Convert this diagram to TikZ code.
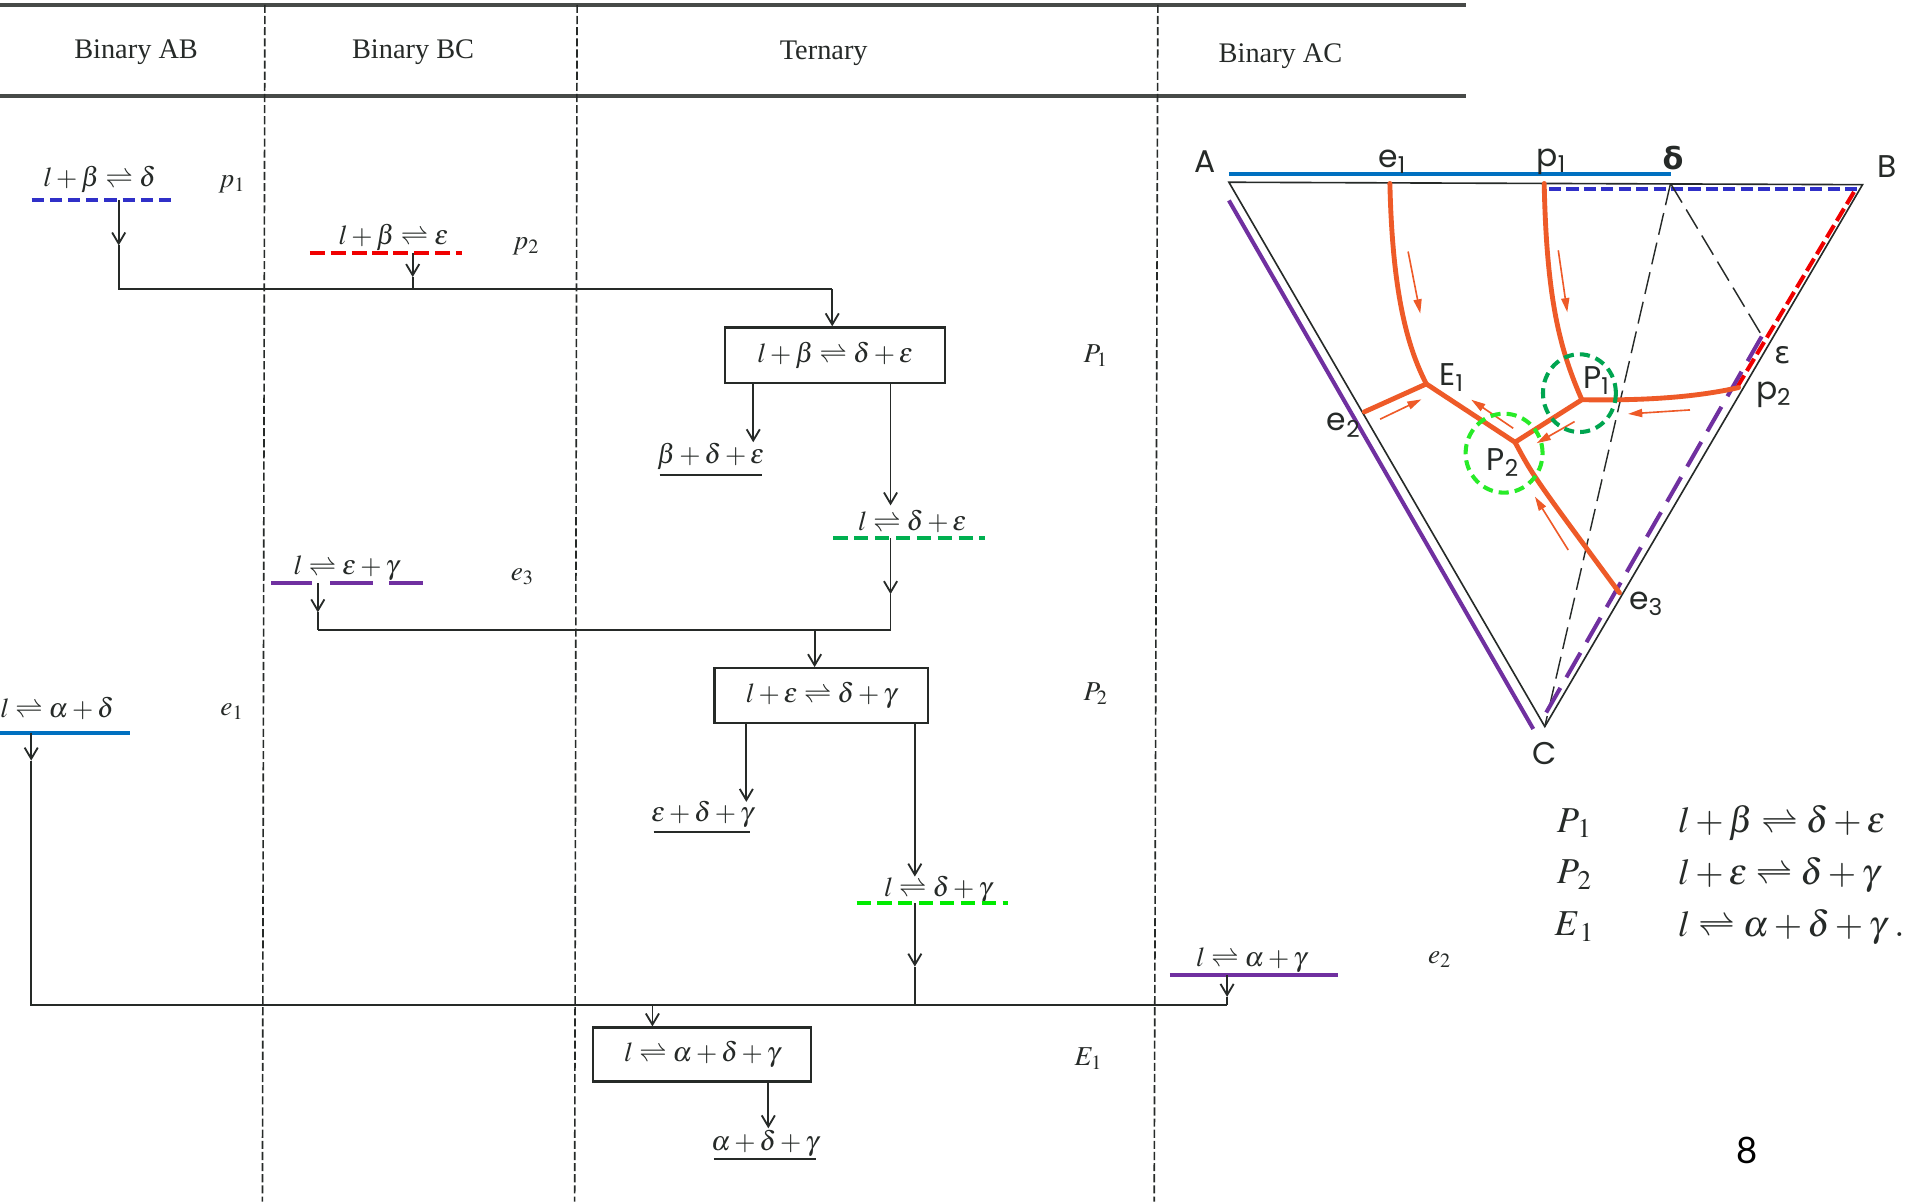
\documentclass[tikz,border=0pt]{standalone}
\usepackage{mathptmx}
\usepackage{fontspec}
\setmainfont{Liberation Serif}
\newfontfamily\trifont{Poppins}
\newfontfamily\grkfont{DejaVu Sans}
\newfontfamily\pagefont{Lato}
\usetikzlibrary{arrows.meta}
\definecolor{cBlue}{RGB}{0,112,192}
\definecolor{cBlueD}{RGB}{48,48,200}
\definecolor{cRed}{RGB}{240,0,0}
\definecolor{cGreen}{RGB}{0,176,80}
\definecolor{cLime}{RGB}{0,235,0}
\definecolor{cPurple}{RGB}{112,48,160}
\definecolor{cOrange}{RGB}{238,90,40}
\definecolor{cDGreen}{RGB}{0,165,80}
\definecolor{cLGreen}{RGB}{40,235,40}
\definecolor{cInk}{RGB}{38,42,40}
\tikzset{
  rx/.style={font=\fontsize{13.5}{15}\selectfont, text=cInk, inner sep=0pt},
  lbl/.style={font=\fontsize{13.5}{15}\selectfont, text=cInk, inner sep=0pt},
  hdr/.style={font=\fontsize{14}{16}\selectfont, text=cInk, inner sep=0pt},
  rbox/.style={draw=cInk, line width=1.1pt, inner sep=0pt, font=\fontsize{13.5}{15}\selectfont, text=cInk},
  fl/.style={draw=cInk, line width=0.9pt},
  arr/.style={fl, -{Straight Barb[length=5.5pt,width=6.5pt]}},
  ul/.style={draw=cInk, line width=1.1pt},
  col/.style={line width=2pt},
  sep/.style={draw=cInk, line width=0.8pt, dash pattern=on 4pt off 1.5pt},
  hline/.style={draw=cInk!85, line width=1.8pt},
  tri/.style={draw=cInk, line width=0.8pt},
  tdash/.style={draw=cInk, line width=0.7pt, dash pattern=on 11pt off 4pt},
  orl/.style={draw=cOrange, line width=2.4pt, line join=round, line cap=round},
  ora/.style={draw=cOrange, line width=0.8pt, -{Triangle[length=7pt,width=4pt]}},
  circ/.style={line width=2pt, dash pattern=on 5pt off 3pt},
  tl/.style={font=\trifont\fontsize{15.5}{17}\selectfont, text=cInk, inner sep=0pt},
  leg/.style={font=\fontsize{18}{20}\selectfont, text=cInk, inner sep=0pt},
}
\begin{document}
\begin{tikzpicture}[x=0.6pt,y=-0.6pt]
\useasboundingbox[fill=white] (0,0) rectangle (1568,989);
% ---------- header and columns ----------
\draw[hline] (0,4) -- (1207,4);
\draw[hline] (0,79) -- (1207,79);
\draw[sep] (218,4) -- (216,989);
\draw[sep] (475,4) -- (473,989);
\draw[sep] (953,4) -- (950,989);
\node[hdr] (hAB) at (112,43) {Binary AB};
\node[hdr] (hBC) at (340,43) {Binary BC};
\node[hdr] (hT) at (678,44) {Ternary};
\node[hdr] (hAC) at (1054,46) {Binary AC};
% ---------- coordinates of the flow ----------
\coordinate (p1s) at (97.7,165);
\coordinate (p1t) at (97.7,202);
\coordinate (h1L) at (97.7,238);
\coordinate (h1R) at (685,238);
\coordinate (p2s) at (339.7,208);
\coordinate (p2t) at (339.7,228);
\coordinate (h1M) at (339.7,238);
\coordinate (t1) at (620,364);
\coordinate (t2) at (733,416);
\coordinate (de0) at (733,443);
\coordinate (de1) at (733,489);
\coordinate (h2R) at (733,518.5);
\coordinate (e3s) at (261.6,480);
\coordinate (e3t) at (261.6,504);
\coordinate (h2L) at (261.6,518.5);
\coordinate (h2M) at (670.5,518.5);
\coordinate (t3) at (614.3,660);
\coordinate (t4) at (753,721.5);
\coordinate (dg0) at (753,743.5);
\coordinate (dg1) at (753,795.6);
\coordinate (h3M) at (753,827);
\coordinate (e1s) at (25.7,603);
\coordinate (e1t) at (25.7,626);
\coordinate (h3L) at (25.7,827);
\coordinate (e2s) at (1010,802.5);
\coordinate (e2t) at (1010,820.5);
\coordinate (h3R) at (1010,827);
\coordinate (h3E) at (537,827);
\coordinate (t5) at (632.4,928.7);
% ---------- p1, p2 ----------
\node[rx] (rp1) at (82,148) {$l+\beta\rightleftharpoons\delta$};
\node[lbl] (lp1) at (191,152) {$p_1$};
\draw[col, draw=cBlueD, dash pattern=on 6pt off 3pt] (26,165) -- (143,165);
\node[rx] (rp2) at (324,195) {$l+\beta\rightleftharpoons\varepsilon$};
\node[lbl] (lp2) at (433,203) {$p_2$};
\draw[col, draw=cRed, dash pattern=on 7.5pt off 2.8pt] (255,208) -- (380,208);
% ---------- P1 ----------
\node[rbox, minimum width=108.6pt, minimum height=27.6pt] (bP1) at (687.5,292.5) {$l+\beta\rightleftharpoons\delta+\varepsilon$};
\node[lbl] (lP1) at (902,293) {$P_1$};
\draw[arr] (p1s) -- (p1t);
\draw[fl] (p1t) -- (h1L) -- (h1R);
\draw[arr] (p2s) -- (p2t);
\draw[fl] (p2t) -- (h1M);
\draw[arr] (h1R) -- (h1R |- bP1.north);
\draw[arr] (bP1.south -| t1) -- (t1);
\node[rx] (rbde) at (585,376) {$\beta+\delta+\varepsilon$};
\draw[ul] (543,391) -- (627,391);
\draw[arr] (bP1.south -| t2) -- (t2);
\node[rx] (rde) at (751,429.5) {$l\rightleftharpoons\delta+\varepsilon$};
\draw[col, draw=cGreen, dash pattern=on 7pt off 3.3pt] (686,443) -- (811,443);
% ---------- e3 ----------
\node[rx] (re3) at (285,468) {$l\rightleftharpoons\varepsilon+\gamma$};
\node[lbl] (le3) at (430,475) {$e_3$};
\draw[col, draw=cPurple] (223.4,480) -- (257.2,480) (272,480) -- (306.8,480) (320.4,480) -- (348,480);
\draw[arr] (de0) -- (de1);
\draw[fl] (de1) -- (h2R) -- (h2L);
\draw[arr] (e3s) -- (e3t);
\draw[fl] (e3t) -- (h2L);
% ---------- P2 ----------
\node[rbox, minimum width=105.6pt, minimum height=27pt] (bP2) at (676,572.5) {$l+\varepsilon\rightleftharpoons\delta+\gamma$};
\node[lbl] (lP2) at (902,571) {$P_2$};
\draw[arr] (h2M) -- (h2M |- bP2.north);
\draw[arr] (bP2.south -| t3) -- (t3);
\node[rx] (rede) at (578,670) {$\varepsilon+\delta+\gamma$};
\draw[ul] (538,684.5) -- (617,684.5);
\draw[arr] (bP2.south -| t4) -- (t4);
\node[rx] (rdg) at (772,732) {$l\rightleftharpoons\delta+\gamma$};
\draw[col, draw=cLime, dash pattern=on 7pt off 3.3pt] (705,743.5) -- (829.4,743.5);
\draw[arr] (dg0) -- (dg1);
\draw[fl] (dg1) -- (h3M);
% ---------- e1, e2 ----------
\node[rx] (re1) at (47,583) {$l\rightleftharpoons\alpha+\delta$};
\node[lbl] (le1) at (191,586) {$e_1$};
\draw[col, draw=cBlue] (0,603) -- (106.6,603);
\draw[arr] (e1s) -- (e1t);
\draw[fl] (e1t) -- (h3L) -- (h3R);
\node[rx] (re2) at (1030,790) {$l\rightleftharpoons\alpha+\gamma$};
\node[lbl] (le2) at (1185,790) {$e_2$};
\draw[col, draw=cPurple] (963,802.5) -- (1101,802.5);
\draw[arr] (e2s) -- (e2t);
\draw[fl] (e2t) -- (h3R);
% ---------- E1 ----------
\node[rbox, minimum width=107.6pt, minimum height=26.7pt] (bE1) at (578,868) {$l\rightleftharpoons\alpha+\delta+\gamma$};
\node[lbl] (lE1) at (896,871) {$E_1$};
\draw[arr] (h3E) -- (h3E |- bE1.north);
\draw[arr] (bE1.south -| t5) -- (t5);
\node[rx] (radg) at (629.5,941) {$\alpha+\delta+\gamma$};
\draw[ul] (587.6,954.2) -- (671.4,954.2);
% ---------- triangle ----------
\coordinate (A) at (1011.5,150);
\coordinate (B) at (1533,152);
\coordinate (C) at (1271.5,598);
\coordinate (D) at (1375,151);
\coordinate (Eps) at (1450,276);
\draw[col, draw=cBlue] (1011.5,143.5) -- (1375,143.5);
\draw[col, draw=cBlueD, dash pattern=on 6pt off 2.6pt] (1275,155.8) -- (1530,155.8);
\draw[col, draw=cPurple] (1011.5,165) -- (1262,600);
\draw[tri] (A) -- (B) -- (C) -- cycle;
\draw[tdash] (D) -- (C);
\draw[tdash] (D) -- (Eps);
\draw[col, draw=cRed, dash pattern=on 7pt off 2.6pt] (1526,158) -- (1429,320);
\draw[col, draw=cPurple, dash pattern=on 14pt off 6pt] (1450,277) -- (1269.5,592);
% orange curves
\coordinate (E1) at (1174,316);
\coordinate (P1) at (1302,329);
\coordinate (P2) at (1247,364);
\coordinate (e1p) at (1144,151);
\coordinate (p1p) at (1271,151);
\coordinate (e2p) at (1123,339);
\coordinate (e3p) at (1333,488);
\coordinate (p2p) at (1431,319);
\draw[orl] (e1p) .. controls (1146,240) and (1158,285) .. (E1);
\draw[orl] (p1p) .. controls (1273,250) and (1285,290) .. (P1);
\draw[orl] (e2p) -- (E1) -- (P2) -- (P1) .. controls (1360,330) and (1400,326) .. (p2p);
\draw[orl] (P2) .. controls (1262,392) .. (e3p);
\draw[ora] (1159,207) -- (1169,258);
\draw[ora] (1282.6,206) -- (1290,257);
\draw[ora] (1136,345) -- (1170,328.7);
\draw[ora] (1245.5,352.5) -- (1211,329);
\draw[ora] (1296,347) -- (1264.8,364.8);
\draw[ora] (1391,337.4) -- (1340,340.7);
\draw[ora] (1290.8,452.7) -- (1263.4,408.8);
\draw[circ, draw=cDGreen] (1300,323.6) ellipse [x radius=18pt, y radius=19.2pt];
\draw[circ, draw=cLGreen] (1238,373) ellipse [x radius=19pt, y radius=19.5pt];
% triangle labels
\node[tl] (lA) at (992,133) {A};
\node[tl] (lB) at (1553,137) {B};
\node[tl] (lC) at (1271,620) {C};
\node[tl] (le1t) at (1146,133) {e\textsubscript{1}};
\node[tl] (lp1t) at (1277,133) {p\textsubscript{1}};
\node[tl, font=\grkfont\bfseries\fontsize{15}{17}\selectfont] (ldt) at (1377,130) {δ};
\node[tl] (lE1t) at (1195,311) {E\textsubscript{1}};
\node[tl] (lP1t) at (1314,313) {P\textsubscript{1}};
\node[tl] (lP2t) at (1237,381) {P\textsubscript{2}};
\node[tl] (le2t) at (1106,350) {e\textsubscript{2}};
\node[tl, font=\grkfont\fontsize{15}{17}\selectfont] (lept) at (1467,292) {ε};
\node[tl] (lp2t) at (1460,325) {p\textsubscript{2}};
\node[tl] (le3t) at (1355,497) {e\textsubscript{3}};
% legend
\node[leg] (gP1) at (1296,677.6) {$P_{\,1}$};
\node[leg] (gP2) at (1296,720) {$P_{\,2}$};
\node[leg] (gE1) at (1296,762.7) {$E_{\,1}$};
\node[leg, anchor=west] (gr1) at (1381,677.6) {$l+\beta\rightleftharpoons\delta+\varepsilon$};
\node[leg, anchor=west] (gr2) at (1381,720) {$l+\varepsilon\rightleftharpoons\delta+\gamma$};
\node[leg, anchor=west] (gr3) at (1381,762.7) {$l\rightleftharpoons\alpha+\delta+\gamma\;.$};
\node[font=\pagefont\fontsize{18}{20}\selectfont, inner sep=0pt] (pg) at (1437.6,946.5) {8};
\end{tikzpicture}
\end{document}
